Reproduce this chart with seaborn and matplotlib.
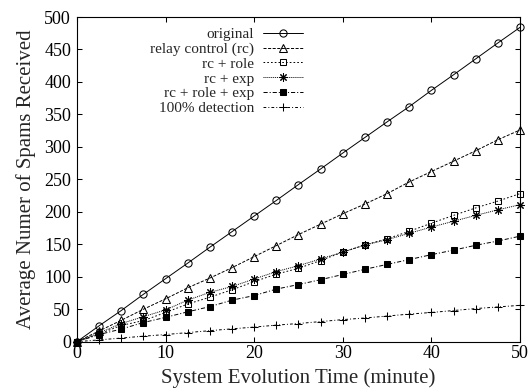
import matplotlib
matplotlib.use("Agg")
import matplotlib.pyplot as plt
import seaborn as sns

# ---- data ----
time_min = [0, 2.5, 5, 7.5, 10, 12.5, 15, 17.5, 20, 22.5, 25,
            27.5, 30, 32.5, 35, 37.5, 40, 42.5, 45, 47.5, 50]

original = [0, 24.5, 48, 73, 97, 121, 145.5, 169.5, 193.5, 217.5, 242,
            266, 290.5, 314.5, 338.5, 362, 387, 411, 435.5, 460, 484]
relay_control = [0, 16.5, 33, 50, 66, 83, 98, 114, 131, 148, 165,
                 181, 197, 212, 228, 246, 262, 278, 294, 311, 326]
rc_role = [0, 12, 25, 32.5, 45, 58, 68.5, 80, 92.5, 104, 113,
           125, 138, 149, 158.5, 170, 182.5, 194.5, 206, 216.5, 228]
rc_exp = [0, 13.5, 28, 38.5, 49, 64, 76, 85, 96.5, 108, 117,
          127.5, 138, 149, 157, 167, 176.5, 185.5, 194.5, 203, 211]
rc_role_exp = [0, 11, 19.5, 29.5, 37.5, 46, 54, 64, 71, 81, 88,
               95.5, 103.5, 111.5, 119, 126.5, 134, 141, 148.5, 155, 162.5]
detection_100 = [0, 2.8, 5.6, 8.5, 11, 14, 17, 19.8, 22.5, 25.5, 28,
                 31, 34, 36.5, 39.5, 42.5, 45, 48, 51, 53.5, 56]

labels = ["original", "relay control (rc)", "rc + role", "rc + exp",
          "rc + role + exp", "100% detection"]
x_ticks = [0, 10, 20, 30, 40, 50]
y_ticks = [0, 50, 100, 150, 200, 250, 300, 350, 400, 450, 500]
x_label = "System Evolution Time (minute)"
y_label = "Average Numer of Spams Received"

# ---- style ----
sns.set_style("ticks")
plt.rcParams["font.family"] = ["Liberation Serif", "DejaVu Serif"]
plt.rcParams["lines.scale_dashes"] = False

fig = plt.figure(figsize=(5.32, 3.91), dpi=100)
ax = fig.add_axes([0.1447, 0.1261, 0.8327, 0.8304])

series = [original, relay_control, rc_role, rc_exp, rc_role_exp, detection_100]
styles = [
    dict(marker="o", markersize=5.2, markerfacecolor="none", linestyle="-"),
    dict(marker="^", markersize=5.4, markerfacecolor="none", linestyle=(0, (2.2, 1.1))),
    dict(marker="s", markersize=5.0, markerfacecolor="none", linestyle=(0, (1.2, 1.5))),
    dict(marker=(8, 2, 0), markersize=6.0, markerfacecolor="none", linestyle=(0, (0.7, 0.7))),
    dict(marker="s", markersize=4.8, markerfacecolor="black", linestyle=(0, (3, 1.4, 0.8, 1.4))),
    dict(marker="+", markersize=6.0, markerfacecolor="none", linestyle=(0, (2, 1.5, 0.7, 1.5))),
]

for vals, lab, st in zip(series, labels, styles):
    sns.lineplot(x=time_min, y=vals, ax=ax, color="black", linewidth=0.7,
                 markeredgecolor="black", markeredgewidth=0.75,
                 clip_on=False, label=lab, legend=False, errorbar=None,
                 sort=False, **st)

ax.set_xlim(0, 50)
ax.set_ylim(0, 500)
ax.set_xticks(x_ticks)
ax.set_yticks(y_ticks)
ax.tick_params(direction="in", length=3.6, width=0.75, top=True, right=True,
               labelsize=13, colors="black")
ax.tick_params(axis="y", pad=4.3)
ax.tick_params(axis="x", pad=2.5)
for sp in ax.spines.values():
    sp.set_linewidth(0.8)
    sp.set_color("black")

ax.set_xlabel(x_label, fontsize=15)
ax.set_ylabel(y_label, fontsize=15)
ax.xaxis.set_label_coords(0.5, -0.083)
ax.yaxis.set_label_coords(-0.093, 0.5)

handles, labs = ax.get_legend_handles_labels()
ax.legend(handles, labs, loc="upper right", bbox_to_anchor=(0.51, 0.968),
          frameon=False, markerfirst=False, fontsize=11, handlelength=2.6,
          handletextpad=0.6, labelspacing=0.07, borderpad=0, borderaxespad=0,
          numpoints=1)

fig.savefig("out.png", dpi=100)
